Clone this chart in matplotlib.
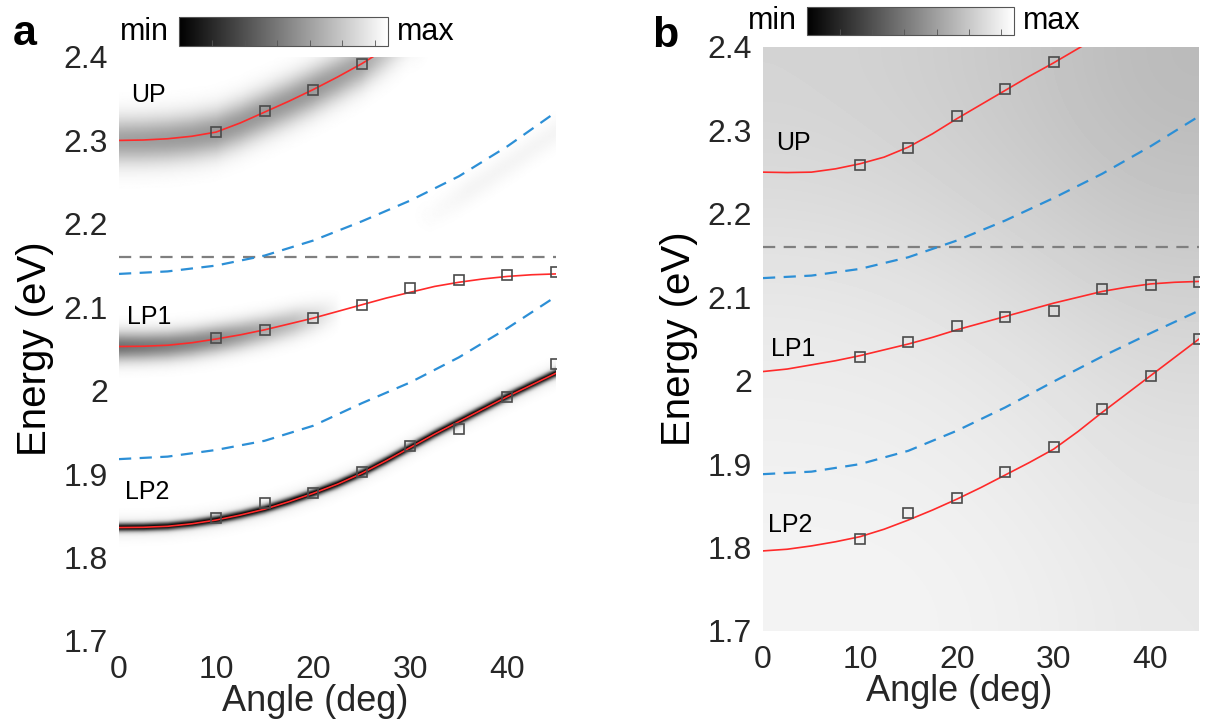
import numpy as np
import matplotlib
matplotlib.use('Agg')
import matplotlib.pyplot as plt
from matplotlib import cm, colors

plt.rcParams['font.family'] = ['Liberation Sans', 'DejaVu Sans']

# angles (deg) for the fitted curves
ang_fine = np.arange(0, 45.1, 2.5)
ang_coarse = np.arange(0, 45.1, 5)

# ---- panel a ----
up_fit_a = [2.300, 2.3005, 2.302, 2.305, 2.310, 2.321, 2.334, 2.347, 2.361, 2.376,
            2.392, 2.410, 2.430]
lp1_fit_a = [2.053, 2.0533, 2.0545, 2.0575, 2.062, 2.067, 2.073, 2.080, 2.087, 2.095,
             2.103, 2.111, 2.118, 2.125, 2.130, 2.134, 2.137, 2.139, 2.140]
lp2_fit_a = [1.836, 1.8363, 1.8375, 1.8405, 1.845, 1.851, 1.858, 1.867, 1.877, 1.888,
             1.901, 1.916, 1.932, 1.948, 1.963, 1.978, 1.993, 2.007, 2.021]
cav1_a = [2.140, 2.143, 2.150, 2.162, 2.180, 2.203, 2.228, 2.257, 2.293, 2.334]
cav2_a = [1.918, 1.921, 1.929, 1.940, 1.958, 1.985, 2.010, 2.040, 2.075, 2.113]

up_pts_ang_a = [10, 15, 20, 25]
up_pts_a = [2.310, 2.335, 2.360, 2.392]
pts_ang = [10, 15, 20, 25, 30, 35, 40, 45]
lp1_pts_a = [2.063, 2.073, 2.087, 2.103, 2.123, 2.133, 2.139, 2.142]
lp2_pts_a = [1.847, 1.865, 1.877, 1.903, 1.934, 1.954, 1.993, 2.032]

# ---- panel b ----
up_fit_b = [2.250, 2.2495, 2.250, 2.254, 2.260, 2.268, 2.280, 2.296, 2.314, 2.331,
            2.348, 2.365, 2.381, 2.398, 2.415]
lp1_fit_b = [2.011, 2.014, 2.019, 2.024, 2.030, 2.037, 2.044, 2.052, 2.061, 2.069,
             2.077, 2.085, 2.093, 2.100, 2.107, 2.112, 2.116, 2.118, 2.119]
lp2_fit_b = [1.796, 1.798, 1.802, 1.807, 1.813, 1.822, 1.833, 1.845, 1.858, 1.872,
             1.887, 1.902, 1.918, 1.939, 1.962, 1.984, 2.006, 2.028, 2.050]
cav1_b = [2.123, 2.126, 2.134, 2.148, 2.168, 2.192, 2.219, 2.248, 2.281, 2.317]
cav2_b = [1.888, 1.891, 1.900, 1.916, 1.940, 1.968, 1.999, 2.029, 2.057, 2.084]

up_pts_ang_b = [10, 15, 20, 25, 30]
up_pts_b = [2.258, 2.279, 2.317, 2.350, 2.382]
lp1_pts_b = [2.028, 2.046, 2.066, 2.076, 2.084, 2.110, 2.115, 2.118]
lp2_pts_b = [1.810, 1.841, 1.860, 1.890, 1.921, 1.966, 2.006, 2.050]

exciton = 2.16

# reflectance map of panel a: band depth along each branch
up_depth_ang = [0, 10, 20, 25, 28, 32]
up_depth = [0.37, 0.40, 0.40, 0.35, 0.2, 0.0]
lp1_depth_ang = [0, 10, 18, 23]
lp1_depth = [0.55, 0.45, 0.25, 0.0]
lp2_depth_ang = [0, 20, 45]
lp2_depth = [0.92, 0.95, 0.92]
faint_ang = [32, 38, 45]
faint_e = [2.21, 2.255, 2.31]

# background of panel b (gray levels 0-255 read on a coarse grid)
bg_ang = [0, 15, 30, 45]
bg_e = [1.7, 1.8, 1.95, 2.1, 2.25, 2.4]
bg_gray = [[244, 243, 239, 232],
           [241, 240, 235, 227],
           [237, 235, 229, 220],
           [231, 227, 218, 208],
           [219, 214, 205, 195],
           [212, 207, 198, 186]]

ylabels = ['1.7', '1.8', '1.9', '2', '2.1', '2.2', '2.3', '2.4']
tick_col = '#262626'

fig = plt.figure(figsize=(12.1, 7.25), dpi=100)
ax_a = fig.add_axes([119 / 1210, (725 - 641) / 725, 437 / 1210, 584 / 725])
ax_b = fig.add_axes([763 / 1210, (725 - 631) / 725, 436 / 1210, 584 / 725])

# panel a image
ga = np.linspace(0, 45, 451)
ge = np.linspace(1.7, 2.4, 701)
A, E = np.meshgrid(ga, ge)


def band(ang, en, dang, dval, sigma):
    c = np.interp(ga, ang, en)
    d = np.interp(ga, dang, dval, left=0, right=0)
    return d[None, :] * np.exp(-0.5 * ((E - c[None, :]) / sigma) ** 2)


img = 1.0
img = img - band(ang_fine[:len(up_fit_a)], up_fit_a, up_depth_ang, up_depth, 0.019)
img = img - band(ang_fine, lp1_fit_a, lp1_depth_ang, lp1_depth, 0.012)
img = img - band(ang_fine, lp2_fit_a, lp2_depth_ang, lp2_depth, 0.0035)
img = img - band(ang_fine, lp2_fit_a, lp2_depth_ang, [0.08, 0.08, 0.08], 0.009)
img = img - band(faint_ang, faint_e, [30, 36, 45], [0, 0.04, 0.04], 0.012)
img = np.clip(img, 0, 1)
ax_a.imshow(img, extent=[0, 45, 1.7, 2.4], origin='lower', aspect='auto',
            cmap='gray', vmin=0, vmax=1, interpolation='bilinear')

# panel b image
ax_b.imshow(np.array(bg_gray) / 255.0, extent=[0, 45, 1.7, 2.4], origin='lower',
            aspect='auto', cmap='gray', vmin=0, vmax=1, interpolation='bicubic')

red = '#ff2a2a'
blue = '#2c8fd6'
sq = dict(ls='none', marker='s', ms=7, mfc='none', mec='#4a4a4a', mew=1.2, zorder=5)

panels = [
    (ax_a, up_fit_a, lp1_fit_a, lp2_fit_a, cav1_a, cav2_a, up_pts_ang_a, up_pts_a,
     lp1_pts_a, lp2_pts_a,
     [(1.2, 2.354, 'UP'), (0.8, 2.088, 'LP1'), (0.6, 1.878, 'LP2')]),
    (ax_b, up_fit_b, lp1_fit_b, lp2_fit_b, cav1_b, cav2_b, up_pts_ang_b, up_pts_b,
     lp1_pts_b, lp2_pts_b,
     [(1.4, 2.285, 'UP'), (0.8, 2.038, 'LP1'), (0.5, 1.827, 'LP2')]),
]

for ax, up, lp1, lp2, c1, c2, upa, upp, l1p, l2p, labels in panels:
    ax.axhline(exciton, color='#7f7f7f', lw=1.6, dashes=(5.5, 3.8), zorder=2)
    ax.plot(ang_coarse, c1, color=blue, lw=1.6, dashes=(5.5, 3.8), zorder=2)
    ax.plot(ang_coarse, c2, color=blue, lw=1.6, dashes=(5.5, 3.8), zorder=2)
    ax.plot(ang_fine[:len(up)], up, color=red, lw=1.2, zorder=3)
    ax.plot(ang_fine, lp1, color=red, lw=1.2, zorder=3)
    ax.plot(ang_fine, lp2, color=red, lw=1.2, zorder=3)
    ax.plot(upa, upp, **sq)
    ax.plot(pts_ang, l1p, **sq)
    ax.plot(pts_ang, l2p, **sq)
    for x, y, t in labels:
        ax.text(x, y, t, fontsize=18, ha='left', va='center', color='black')
    ax.set_xlim(0, 45)
    ax.set_ylim(1.7, 2.4)
    ax.set_xticks([0, 10, 20, 30, 40])
    ax.set_yticks([1.7, 1.8, 1.9, 2.0, 2.1, 2.2, 2.3, 2.4])
    ax.set_yticklabels(ylabels)
    ax.tick_params(length=0, labelsize=23, colors=tick_col)
    ax.tick_params(axis='x', pad=10)
    ax.tick_params(axis='y', pad=8)
    for s in ax.spines.values():
        s.set_visible(False)
    ax.set_xlabel('Angle (deg)', fontsize=26, color=tick_col, va='center')
    ax.xaxis.set_label_coords(0.45, -0.103)
    ax.set_ylabel('Energy (eV)', fontsize=29, color='black', va='center')
    ax.yaxis.set_label_coords(-0.192, 0.5)

# colorbars
cb_ticks = [0.159, 0.315, 0.470, 0.626, 0.782, 0.939]
for rect in [[179 / 1210, (725 - 46) / 725, 209 / 1210, 29 / 725],
             [807 / 1210, (725 - 35) / 725, 207 / 1210, 28 / 725]]:
    cax = fig.add_axes(rect)
    sm = cm.ScalarMappable(norm=colors.Normalize(0, 1), cmap='gray')
    cb = fig.colorbar(sm, cax=cax, orientation='horizontal')
    cb.outline.set_edgecolor('#555555')
    cb.outline.set_linewidth(0.8)
    cax.set_xticks(cb_ticks)
    cax.tick_params(axis='x', direction='in', length=4, width=0.6, color='#555555',
                    labelbottom=False, bottom=True)
    cax.text(-0.05, 0.5, 'min', transform=cax.transAxes, ha='right', va='center',
             fontsize=22)
    cax.text(1.045, 0.5, 'max', transform=cax.transAxes, ha='left', va='center',
             fontsize=22)

fig.text(13 / 1210, (725 - 45) / 725, 'a', fontsize=31, fontweight='bold',
         ha='left', va='baseline')
fig.text(652 / 1210, (725 - 47) / 725, 'b', fontsize=31, fontweight='bold',
         ha='left', va='baseline')

fig.savefig('out.png', dpi=100)
